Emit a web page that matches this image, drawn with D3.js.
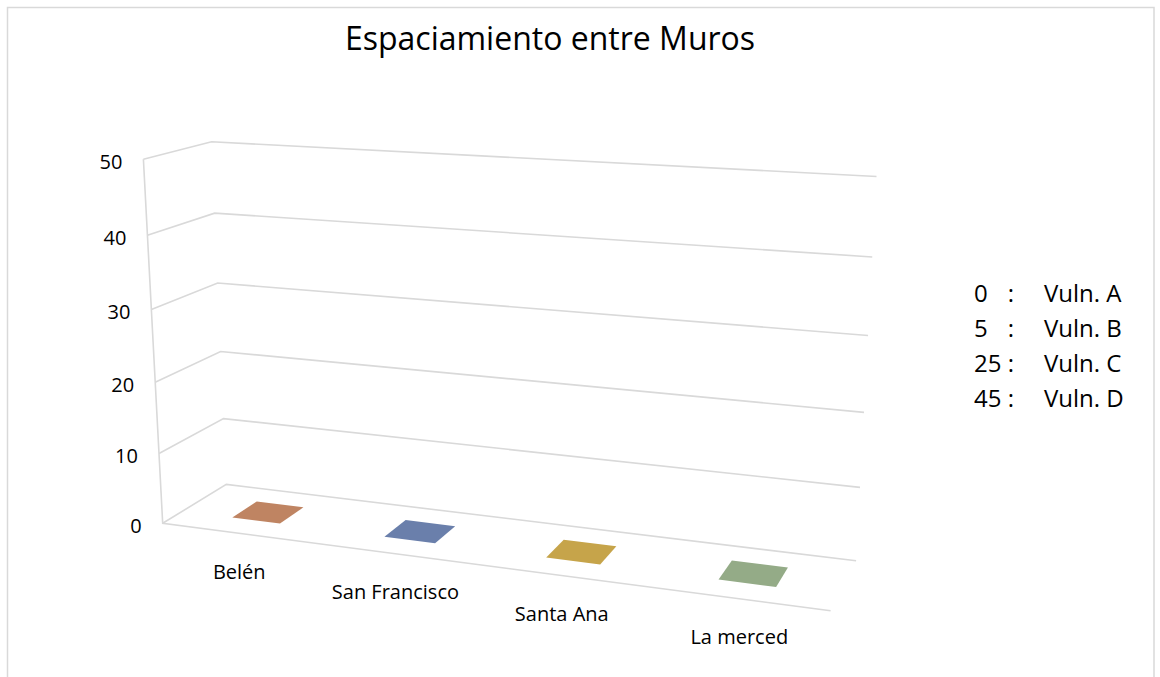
<!DOCTYPE html>
<html>
<head>
<meta charset="utf-8">
<script src="https://cdn.jsdelivr.net/npm/d3@7"></script>
<style>
  body { margin: 0; background: #fff; }
  text { font-family: "Open Sans", sans-serif; fill: #000; }
</style>
</head>
<body>
<svg id="chart" width="1160" height="677"></svg>
<script>
// ---- data ----
const chartTitle = "Espaciamiento entre Muros";
const categories = ["Belén", "San Francisco", "Santa Ana", "La merced"];
const values = [0, 0, 0, 0];
const barColors = ["#bf8462", "#6a7fab", "#c6a44a", "#94ab87"];
const yTicks = [0, 10, 20, 30, 40, 50];
const legendCodes = ["0", "5", "25", "45"];
const legendLabels = ["Vuln. A", "Vuln. B", "Vuln. C", "Vuln. D"];

// ---- layout: screen position of the plot box corners (x, value, depth in 0..1) ----
const boxCorners = [
  [[0, 1, 0], [143.3, 159.3]],
  [[0, 0, 0], [162.7, 523.3]],
  [[0, 1, 1], [211.7, 141.7]],
  [[0, 0, 1], [226.3, 484.3]],
  [[1, 1, 1], [876.5, 176.5]],
  [[1, 0, 1], [856.0, 561.0]],
  [[1, 0, 0], [830.7, 610.5]]
];

// Fit a 3x4 perspective camera (DLT, least squares) to the box corners
function fitCamera(pairs) {
  const rows = [], rhs = [];
  pairs.forEach(([[X, Y, Z], [u, v]]) => {
    rows.push([X, Y, Z, 1, 0, 0, 0, 0, -u * X, -u * Y, -u * Z]); rhs.push(u);
    rows.push([0, 0, 0, 0, X, Y, Z, 1, -v * X, -v * Y, -v * Z]); rhs.push(v);
  });
  const n = 11;
  const M = Array.from({ length: n }, () => new Array(n + 1).fill(0));
  rows.forEach((r, k) => {
    for (let i = 0; i < n; i++) {
      for (let j = 0; j < n; j++) M[i][j] += r[i] * r[j];
      M[i][n] += r[i] * rhs[k];
    }
  });
  for (let c = 0; c < n; c++) {
    let piv = c;
    for (let r = c + 1; r < n; r++) if (Math.abs(M[r][c]) > Math.abs(M[piv][c])) piv = r;
    [M[c], M[piv]] = [M[piv], M[c]];
    for (let r = 0; r < n; r++) {
      if (r === c) continue;
      const f = M[r][c] / M[c][c];
      for (let k = c; k <= n; k++) M[r][k] -= f * M[c][k];
    }
  }
  return M.map((row, i) => row[n] / row[i]);
}
const P = fitCamera(boxCorners);
function project(X, Y, Z) {
  const w = P[8] * X + P[9] * Y + P[10] * Z + 1;
  return [(P[0] * X + P[1] * Y + P[2] * Z + P[3]) / w,
          (P[4] * X + P[5] * Y + P[6] * Z + P[7]) / w];
}

// ---- scales ----
const x = d3.scaleBand().domain(categories).range([0, 1]).paddingInner(0.68).paddingOuter(0.34);
const y = d3.scaleLinear().domain([0, 50]).range([0, 1]);
const barDepth = [0.3, 0.7];

const svg = d3.select("#chart");
const line = d3.line();
const gridColor = "#d9d9d9";

// chart frame
svg.append("rect")
  .attr("x", 7.5).attr("y", 7.5).attr("width", 1146.5).attr("height", 720)
  .attr("fill", "none").attr("stroke", gridColor).attr("stroke-width", 1.5);

// title
svg.append("text")
  .attr("x", 550).attr("y", 50)
  .attr("text-anchor", "middle")
  .style("font-size", "32px")
  .text(chartTitle);

// walls: side wall gridlines, back wall gridlines
const grid = svg.append("g").attr("fill", "none").attr("stroke", gridColor).attr("stroke-width", 1.6);
yTicks.forEach(t => {
  const v = y(t);
  grid.append("path").attr("d", line([project(0, v, 0), project(0, v, 1), project(1, v, 1)]));
});
// vertical axis edge and floor front edge
grid.append("path").attr("d", line([project(0, y(50), 0), project(0, 0, 0), project(1, 0, 0)]));

// value labels
svg.append("g").selectAll("text").data(yTicks).join("text")
  .attr("x", d => project(0, y(d), 0)[0] - 21)
  .attr("y", d => project(0, y(d), 0)[1] + 9.5)
  .attr("text-anchor", "end")
  .style("font-size", "20px")
  .text(d => d);

// bars as 3-D boxes
const bars = svg.append("g");
categories.forEach((c, i) => {
  const x0 = x(c), x1 = x(c) + x.bandwidth();
  const [z0, z1] = barDepth;
  const h = y(values[i]);
  const col = d3.color(barColors[i]);
  const faces = [
    { pts: [[x1, 0, z0], [x1, 0, z1], [x1, h, z1], [x1, h, z0]], fill: col.darker(0.6) },
    { pts: [[x0, 0, z0], [x1, 0, z0], [x1, h, z0], [x0, h, z0]], fill: col.darker(0.2) },
    { pts: [[x0, h, z0], [x1, h, z0], [x1, h, z1], [x0, h, z1]], fill: col }
  ];
  faces.forEach(f => {
    bars.append("path")
      .attr("d", line(f.pts.map(p => project(...p))) + "Z")
      .attr("fill", f.fill);
  });
});

// category labels
svg.append("g").selectAll("text").data(categories).join("text")
  .attr("x", d => project(x(d) + x.bandwidth() / 2, 0, 0)[0] + 2)
  .attr("y", d => project(x(d) + x.bandwidth() / 2, 0, 0)[1] + 46)
  .attr("text-anchor", "middle")
  .style("font-size", "20px")
  .text(d => d);

// legend text block
const legend = svg.append("g").style("font-size", "24px");
legendCodes.forEach((code, i) => {
  const by = 302 + i * 35;
  legend.append("text").attr("x", 974).attr("y", by).text(code);
  legend.append("text").attr("x", 1011).attr("y", by).attr("text-anchor", "middle").text(":");
  legend.append("text").attr("x", 1044).attr("y", by).text(legendLabels[i]);
});
</script>
</body>
</html>
